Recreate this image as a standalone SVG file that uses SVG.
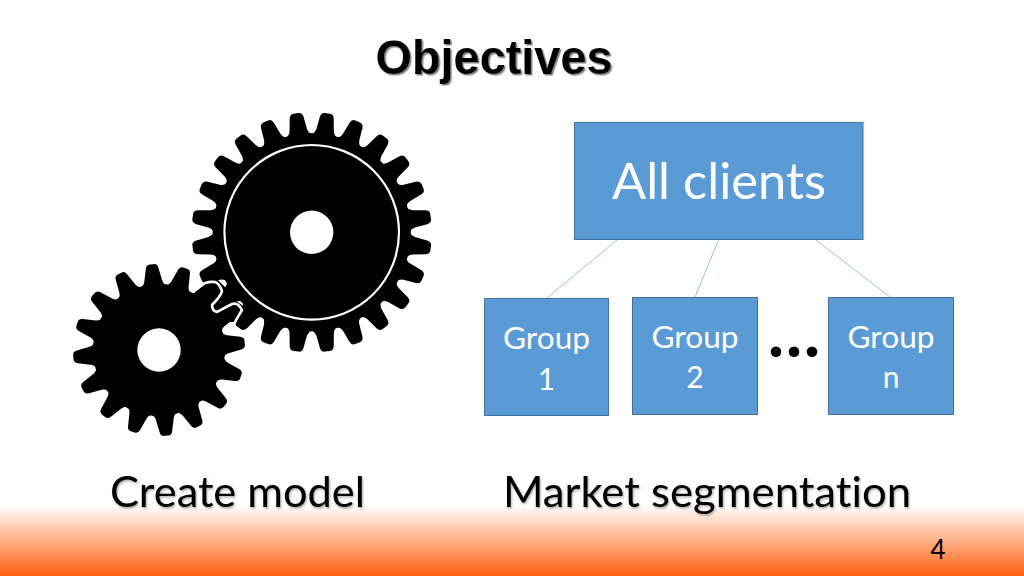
<svg xmlns="http://www.w3.org/2000/svg" xmlns:xlink="http://www.w3.org/1999/xlink" width="1024" height="576" viewBox="0 0 1024 576">
<style>
.box{fill:#5b9bd5;stroke:#41719c;stroke-width:1}
.lbl{font-family:Lato,"Liberation Sans",sans-serif;fill:#fff;text-anchor:middle;font-variant-ligatures:none}
.cap{font-family:Lato,"Liberation Sans",sans-serif;fill:#000;font-size:42px;text-anchor:middle;filter:url(#sh);font-variant-ligatures:none}
.link{stroke:#9fbcd6;stroke-width:1;fill:none}
</style>
<defs>
<linearGradient id="band" x1="0" y1="0" x2="0" y2="1"><stop offset="0" stop-color="#fff"/><stop offset="1" stop-color="#ff5f0f"/></linearGradient>
<filter id="sh" x="-5%" y="-20%" width="110%" height="140%"><feDropShadow dx="1" dy="1.5" stdDeviation="1" flood-color="#000" flood-opacity=".35"/></filter>
<filter id="tsh" x="-5%" y="-20%" width="110%" height="140%"><feDropShadow dx="1.5" dy="1.5" stdDeviation=".4" flood-color="#808080" flood-opacity="1"/></filter>
<path id="bt" d="M-13,-97 Q-9.500,-99 -8.800,-103 L-7,-115.500 Q-6.300,-120 -2.500,-120 L2.500,-120 Q6.300,-120 7,-115.500 L8.800,-103 Q9.500,-99 13,-97 Z"/>
<path id="st" d="M-14,-63 Q-10,-65 -9,-69 L-6.300,-82 Q-5.600,-86 -2,-86 L2,-86 Q5.600,-86 6.300,-82 L9,-69 Q10,-65 14,-63 Z"/>
</defs>
<rect width="1024" height="576" fill="#fff"/>
<rect id="footer-band" x="0" y="505" width="1024" height="71" fill="url(#band)"/>
<text id="title" x="494" y="74" font-family="'Liberation Sans',sans-serif" font-weight="700" font-size="48" text-anchor="middle" textLength="237" lengthAdjust="spacingAndGlyphs" fill="#000" filter="url(#tsh)">Objectives</text>
<g id="gear-small" transform="translate(159,350)">
<circle r="66"/>
<use xlink:href="#st" transform="rotate(-4.8)"/><use xlink:href="#st" transform="rotate(17.7)"/><use xlink:href="#st" transform="rotate(40.2)"/><use xlink:href="#st" transform="rotate(62.7)"/><use xlink:href="#st" transform="rotate(85.2)"/><use xlink:href="#st" transform="rotate(107.7)"/><use xlink:href="#st" transform="rotate(130.2)"/><use xlink:href="#st" transform="rotate(152.7)"/><use xlink:href="#st" transform="rotate(175.2)"/><use xlink:href="#st" transform="rotate(197.7)"/><use xlink:href="#st" transform="rotate(220.2)"/><use xlink:href="#st" transform="rotate(242.7)"/><use xlink:href="#st" transform="rotate(265.2)"/><use xlink:href="#st" transform="rotate(287.7)"/><use xlink:href="#st" transform="rotate(310.2)"/><use xlink:href="#st" transform="rotate(332.7)"/>
<circle r="21.7" fill="#fff"/>
</g>
<g id="gear-large" transform="translate(311.7,232.3)">
<circle r="99"/>
<use xlink:href="#bt" transform="rotate(7.5)"/><use xlink:href="#bt" transform="rotate(22.5)"/><use xlink:href="#bt" transform="rotate(37.5)"/><use xlink:href="#bt" transform="rotate(52.5)"/><use xlink:href="#bt" transform="rotate(67.5)"/><use xlink:href="#bt" transform="rotate(82.5)"/><use xlink:href="#bt" transform="rotate(97.5)"/><use xlink:href="#bt" transform="rotate(112.5)"/><use xlink:href="#bt" transform="rotate(127.5)"/><use xlink:href="#bt" transform="rotate(142.5)"/><use xlink:href="#bt" transform="rotate(157.5)"/><use xlink:href="#bt" transform="rotate(172.5)"/><use xlink:href="#bt" transform="rotate(187.5)"/><use xlink:href="#bt" transform="rotate(202.5)"/><use xlink:href="#bt" transform="rotate(217.5)"/><use xlink:href="#bt" transform="rotate(232.5)"/><use xlink:href="#bt" transform="rotate(247.5)"/><use xlink:href="#bt" transform="rotate(262.5)"/><use xlink:href="#bt" transform="rotate(277.5)"/><use xlink:href="#bt" transform="rotate(292.5)"/><use xlink:href="#bt" transform="rotate(307.5)"/><use xlink:href="#bt" transform="rotate(322.5)"/><use xlink:href="#bt" transform="rotate(337.5)"/><use xlink:href="#bt" transform="rotate(352.5)"/>
<circle r="87.3" fill="none" stroke="#fff" stroke-width="2.2"/>
<circle r="21.7" fill="#fff"/>
</g>
<g id="gear-mesh">
<polygon points="194,293 205,281 216,278 228,290 232,298 246,308 238,322 226,322 214,318 200,305" fill="#000"/>
<path d="M193,292 L205,283 Q210,281.500 215,282 Q219,283 222,291 Q221,296 212,305 Q212,311 217,312 L232,304 Q238,302 242,310 L236,320 L233,327" fill="none" stroke="#fff" stroke-width="2.6"/>
</g>
<g id="connectors">
<line class="link" x1="617" y1="240" x2="547" y2="298"/>
<line class="link" x1="718.500" y1="240" x2="695" y2="297"/>
<line class="link" x1="816" y1="240" x2="890" y2="297"/>
</g>
<g id="all-clients"><rect class="box" x="574.500" y="122.500" width="288.500" height="117"/><text class="lbl" x="719" y="199" font-size="50" textLength="214" lengthAdjust="spacingAndGlyphs">All clients</text></g>
<g id="group-1"><rect class="box" x="484.500" y="298.500" width="124" height="117"/><text class="lbl" x="546.500" y="349" font-size="30" textLength="87" lengthAdjust="spacingAndGlyphs">Group</text><text class="lbl" x="546.500" y="390" font-size="30">1</text></g>
<g id="group-2"><rect class="box" x="632.500" y="297.500" width="125" height="117"/><text class="lbl" x="695" y="348" font-size="30" textLength="87" lengthAdjust="spacingAndGlyphs">Group</text><text class="lbl" x="695" y="388" font-size="30">2</text></g>
<g id="group-n"><rect class="box" x="828.500" y="297.500" width="125" height="117"/><text class="lbl" x="891" y="348" font-size="30" textLength="87" lengthAdjust="spacingAndGlyphs">Group</text><text class="lbl" x="891" y="388" font-size="30">n</text></g>
<g id="ellipsis"><circle cx="776" cy="351.700" r="5.300"/><circle cx="794" cy="351.700" r="5.300"/><circle cx="812" cy="351.700" r="5.300"/></g>
<text id="caption-model" class="cap" x="237.500" y="507" textLength="255" lengthAdjust="spacingAndGlyphs">Create model</text>
<text id="caption-segmentation" class="cap" x="707" y="507" textLength="408" lengthAdjust="spacingAndGlyphs">Market segmentation</text>
<text id="page-number" x="938" y="559" font-family="Lato,'Liberation Sans',sans-serif" font-size="26" text-anchor="middle" fill="#000">4</text>
</svg>
